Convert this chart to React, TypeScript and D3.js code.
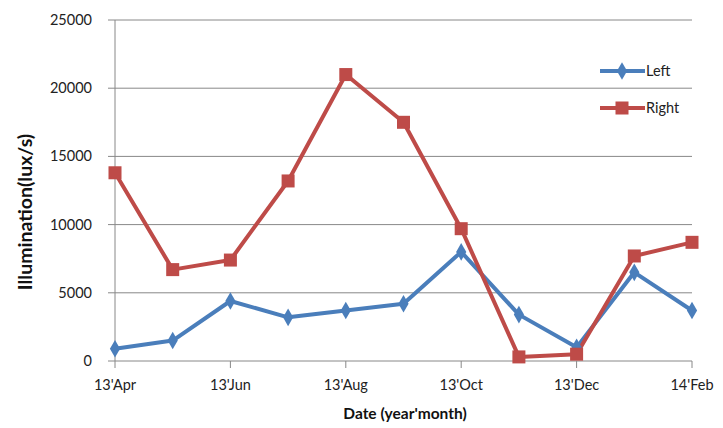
import React from "react";
import * as d3 from "d3";

const months = ["13'Apr","13'May","13'Jun","13'Jul","13'Aug","13'Sep","13'Oct","13'Nov","13'Dec","14'Jan","14'Feb"];
const tickLabels = ["13'Apr","13'Jun","13'Aug","13'Oct","13'Dec","14'Feb"];
const leftValues = [900, 1500, 4400, 3200, 3700, 4200, 8000, 3400, 1000, 6500, 3700];
const rightValues = [13800, 6700, 7400, 13200, 21000, 17500, 9700, 300, 500, 7700, 8700];
const yTicks = [0, 5000, 10000, 15000, 20000, 25000];

const W = 723, H = 428;
const BLUE = "#4a7ebb", RED = "#be4b48";
const FONT = "Lato, 'Open Sans', sans-serif";

export default function App() {
  const x = d3.scalePoint<string>().domain(months).range([115, 692]);
  const y = d3.scaleLinear().domain([0, 25000]).range([361, 20]);
  const line = d3.line<number>().x((_, i) => x(months[i])!).y(d => y(d));
  const diamond = d3.symbol().type(d3.symbolDiamond).size(90)()!;
  const legendY1 = 71, legendY2 = 108;
  return (
    <svg width={W} height={H} style={{ position: "absolute", left: 0, top: 0, background: "#fff" }} fontFamily={FONT}>
      {yTicks.map(t => (
        <g key={t}>
          {t > 0 && <line x1={115} x2={692} y1={y(t)} y2={y(t)} stroke="#888" strokeWidth={1} />}
          <line x1={108} x2={115} y1={y(t)} y2={y(t)} stroke="#888" strokeWidth={1} />
          <text x={92} y={y(t)} dy="0.35em" textAnchor="end" fontSize={14.5} fill="#222">{t}</text>
        </g>
      ))}
      <line x1={115} x2={115} y1={20} y2={361} stroke="#888" strokeWidth={1} />
      <line x1={115} x2={692} y1={361} y2={361} stroke="#888" strokeWidth={1} />
      {tickLabels.map(m => (
        <g key={m}>
          <line x1={x(m)} x2={x(m)} y1={361} y2={368} stroke="#888" strokeWidth={1} />
          <text x={x(m)} y={385} dy="0.35em" textAnchor="middle" fontSize={14.5} fill="#222">{m}</text>
        </g>
      ))}
      <text x={405} y={414} dy="0.35em" textAnchor="middle" fontSize={15.5} fontWeight="bold" fill="#111">Date (year'month)</text>
      <text transform={`translate(25,212) rotate(-90)`} dy="0.35em" textAnchor="middle" fontSize={19.5} fontWeight="bold" fill="#111">Illumination(lux/s)</text>

      <path d={line(leftValues)!} fill="none" stroke={BLUE} strokeWidth={4} strokeLinejoin="round" />
      <path d={line(rightValues)!} fill="none" stroke={RED} strokeWidth={4} strokeLinejoin="round" />
      {leftValues.map((v, i) => (
        <path key={"l" + i} d={diamond} transform={`translate(${x(months[i])},${y(v)})`} fill={BLUE} />
      ))}
      {rightValues.map((v, i) => (
        <rect key={"r" + i} x={x(months[i])! - 6.5} y={y(v) - 6.5} width={13} height={13} fill={RED} />
      ))}

      <line x1={600} x2={645} y1={legendY1} y2={legendY1} stroke={BLUE} strokeWidth={4} />
      <path d={diamond} transform={`translate(622,${legendY1})`} fill={BLUE} />
      <text x={646} y={legendY1} dy="0.35em" fontSize={14.5} fill="#222">Left</text>
      <line x1={600} x2={645} y1={legendY2} y2={legendY2} stroke={RED} strokeWidth={4} />
      <rect x={615.5} y={legendY2 - 6.5} width={13} height={13} fill={RED} />
      <text x={646} y={legendY2} dy="0.35em" fontSize={14.5} fill="#222">Right</text>
    </svg>
  );
}
